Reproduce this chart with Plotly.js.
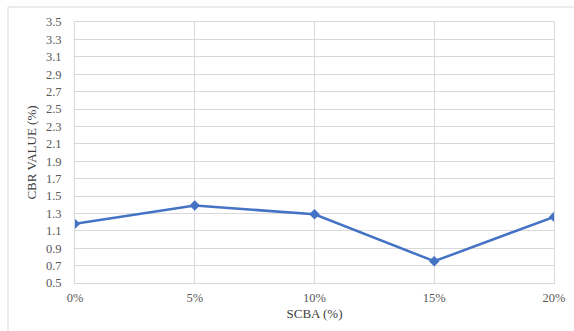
<!DOCTYPE html>
<html>
<head>
<meta charset="utf-8">
<script src="https://cdn.plot.ly/plotly-3.0.1.min.js"></script>
<style>
  html, body { margin: 0; padding: 0; background: #fff; }
  #chart { width: 574px; height: 331px; }
</style>
</head>
<body>
<div id="chart"></div>
<script>
// SCBA content versus CBR value
const scbaLevels = ['0%', '5%', '10%', '15%', '20%'];
const cbrValues = [1.18, 1.39, 1.29, 0.75, 1.26];
const yTicks = [0.5, 0.7, 0.9, 1.1, 1.3, 1.5, 1.7, 1.9, 2.1, 2.3, 2.5, 2.7, 2.9, 3.1, 3.3, 3.5];

const textColor = '#595959';
const titleColor = '#404040';
const gridColor = '#d9d9d9';

const trace = {
  x: scbaLevels,
  y: cbrValues,
  type: 'scatter',
  mode: 'lines+markers',
  line: { color: '#4472C4', width: 2.5 },
  marker: { symbol: 'diamond', size: 8, color: '#4472C4' },
  hoverinfo: 'x+y'
};

const layout = {
  width: 574,
  height: 331,
  margin: { l: 75, r: 20, t: 22, b: 48 },
  paper_bgcolor: '#fff',
  plot_bgcolor: '#fff',
  showlegend: false,
  font: { family: '"Liberation Serif", "Times New Roman", serif', size: 12.5, color: textColor },
  xaxis: {
    type: 'category',
    range: [0, 4],
    showgrid: true,
    gridcolor: gridColor,
    gridwidth: 1,
    showline: true,
    mirror: true,
    linecolor: gridColor,
    linewidth: 1,
    ticks: '',
    ticklabelstandoff: 3,
    tickfont: { size: 12.5, color: textColor },
    zeroline: false,
    title: { text: 'SCBA (%)', font: { size: 13, color: titleColor }, standoff: 4 }
  },
  yaxis: {
    range: [0.5, 3.5],
    tickvals: yTicks,
    ticktext: yTicks.map(v => v.toFixed(1)),
    showgrid: true,
    gridcolor: gridColor,
    gridwidth: 1,
    showline: true,
    mirror: true,
    linecolor: gridColor,
    linewidth: 1,
    ticks: '',
    ticklabelstandoff: 10,
    tickfont: { size: 12.5, color: textColor },
    zeroline: false,
    title: { text: 'CBR VALUE (%)', font: { size: 13, color: titleColor }, standoff: 6 }
  },
  shapes: [
    // frame edges around the chart
    { type: 'line', xref: 'paper', yref: 'paper',
      x0: (8 - 75) / 479, x1: (574 - 75) / 479, y0: (331 - 48 - 7) / 261, y1: (331 - 48 - 7) / 261,
      line: { color: gridColor, width: 1 } },
    { type: 'line', xref: 'paper', yref: 'paper',
      x0: (8 - 75) / 479, x1: (8 - 75) / 479, y0: (331 - 48 - 7) / 261, y1: -48 / 261,
      line: { color: gridColor, width: 1 } }
  ]
};

Plotly.newPlot('chart', [trace], layout, { displayModeBar: false, staticPlot: true });
</script>
</body>
</html>
